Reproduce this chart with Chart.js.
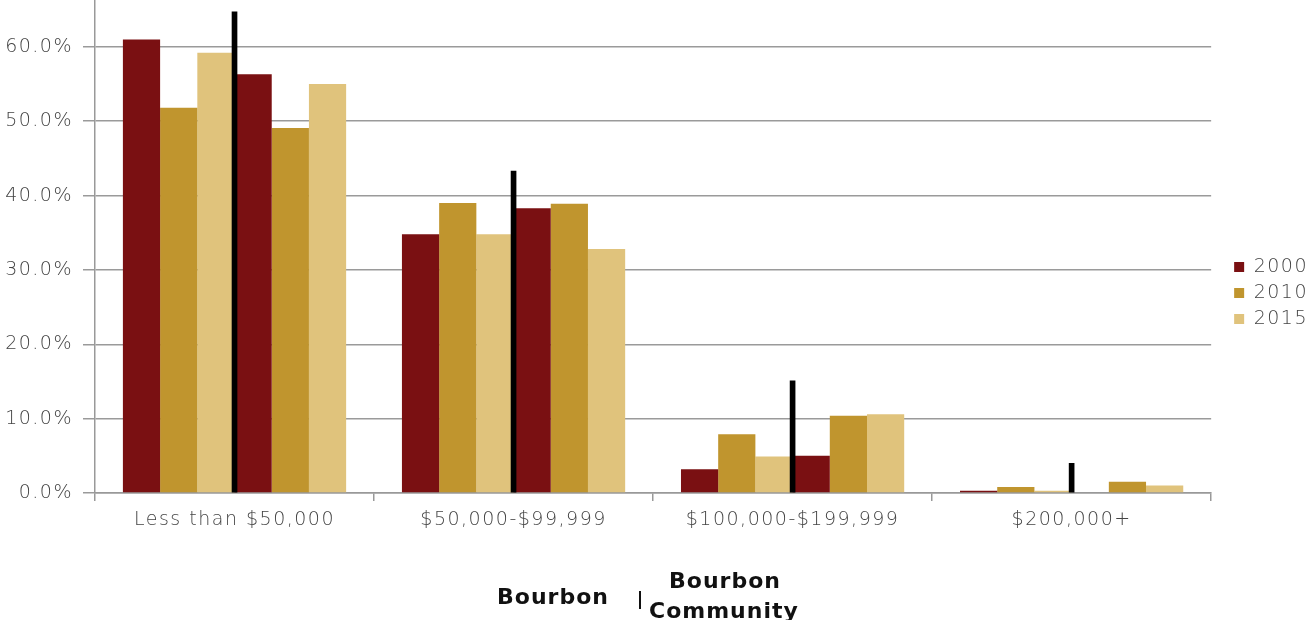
<!DOCTYPE html>
<html lang="en">
<head>
    <meta charset="UTF-8">
    <title>Household income, Bourbon vs Bourbon Community</title>
    <script src="https://cdn.jsdelivr.net/npm/chart.js"></script>
    <style>
        body { margin: 0; background: #fff; }
        #wrap { position: relative; width: 1314px; height: 620px; overflow: hidden; }
        .foot { position: absolute; font-family: "DejaVu Sans", sans-serif; font-weight: bold; font-size: 22px; letter-spacing: 1px; color: #111; line-height: 1; }
        #bar-sep { position: absolute; left: 639px; top: 591px; width: 2px; height: 18px; background: #111; }
    </style>
</head>
<body>
<div id="wrap">
    <canvas id="income-chart" width="1314" height="620"></canvas>
    <div class="foot" style="left:497px; top:586px;">Bourbon</div>
    <div id="bar-sep"></div>
    <div class="foot" style="left:669px; top:570px;">Bourbon</div>
    <div class="foot" style="left:649px; top:600px;">Community</div>
</div>

<script>
    const categories = ['Less than $50,000', '$50,000-$99,999', '$100,000-$199,999', '$200,000+'];
    const years = ['2000', '2010', '2015'];

    // share of households (%), left half of each group
    const bourbon2000 = [61.0, 34.8, 3.2, 0.3];
    const bourbon2010 = [51.8, 39.0, 7.9, 0.8];
    const bourbon2015 = [59.2, 34.8, 4.9, 0.3];

    // right half of each group
    const community2000 = [56.3, 38.3, 5.0, 0.0];
    const community2010 = [49.1, 38.9, 10.4, 1.5];
    const community2015 = [55.0, 32.8, 10.6, 1.0];

    // black divider between the two halves
    const dividerHeights = [64.7, 43.3, 15.1, 4.0];

    const colors = ['#7a1012', '#c0952e', '#e0c37c'];
    const tickFont = { family: 'DejaVu Sans', size: 19, weight: '200' };

    function yearSet(label, data, color) {
        return { label: label, data: data, backgroundColor: color, order: 1 };
    }

    // wide tracking on all canvas text, and nudge the legend into place
    const tweaks = {
        id: 'tweaks',
        afterLayout(chart) {
            const lg = chart.legend;
            lg.left += 16; lg.right += 16;
            lg.top -= 17; lg.bottom -= 17;
        },
        beforeDraw(chart) {
            chart.ctx.letterSpacing = '1.5px';
        }
    };

    const ctx = document.getElementById('income-chart').getContext('2d');
    new Chart(ctx, {
        type: 'bar',
        data: {
            labels: categories,
            datasets: [
                yearSet(years[0], bourbon2000, colors[0]),
                yearSet(years[1], bourbon2010, colors[1]),
                yearSet(years[2], bourbon2015, colors[2]),
                yearSet(years[0], community2000, colors[0]),
                yearSet(years[1], community2010, colors[1]),
                yearSet(years[2], community2015, colors[2]),
                {
                    label: 'divider',
                    data: dividerHeights,
                    backgroundColor: '#000',
                    grouped: false,
                    barThickness: 5,
                    order: 0
                }
            ]
        },
        plugins: [tweaks],
        options: {
            responsive: false,
            animation: false,
            layout: { padding: { top: 0, right: 18, bottom: 0, left: 0 } },
            datasets: { bar: { categoryPercentage: 0.8, barPercentage: 1.0 } },
            plugins: {
                tooltip: { enabled: false },
                legend: {
                    position: 'right',
                    labels: {
                        filter: item => item.datasetIndex < 3,
                        boxWidth: 10,
                        boxHeight: 10,
                        padding: 7,
                        color: '#444',
                        font: { family: 'DejaVu Sans', size: 19, weight: '200' }
                    }
                }
            },
            scales: {
                x: {
                    grid: { drawOnChartArea: false, drawTicks: true, tickLength: 8, color: '#999', lineWidth: 1.5 },
                    border: { color: '#999', width: 1.5 },
                    ticks: { color: '#444', font: tickFont, padding: 8, maxRotation: 0 },
                    afterFit: scale => { scale.height = 127; }
                },
                y: {
                    min: 0,
                    max: 66.3,
                    grid: { color: '#9a9a9a', lineWidth: 1.5, tickLength: 12 },
                    border: { color: '#999', width: 1.5 },
                    ticks: {
                        stepSize: 10,
                        includeBounds: false,
                        color: '#444',
                        font: tickFont,
                        padding: 10,
                        callback: v => v.toFixed(1) + '%'
                    },
                    afterBuildTicks: scale => {
                        scale.ticks = scale.ticks.filter(t => t.value % 10 === 0);
                    },
                    afterFit: scale => {
                        scale.width = 95;
                        scale.paddingTop = 0;
                        scale.paddingBottom = 0;
                    }
                }
            }
        }
    });
</script>
</body>
</html>
